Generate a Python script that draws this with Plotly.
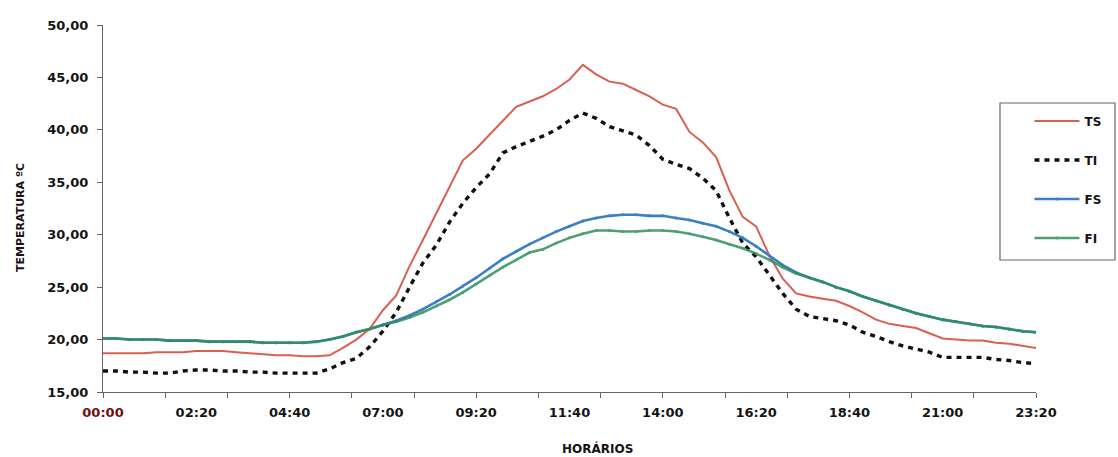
import plotly.graph_objects as go

# time in minutes from 00:00, every 20 minutes
minutes = list(range(0, 1401, 20))

ts = [18.7, 18.7, 18.7, 18.7, 18.8, 18.8, 18.8, 18.9, 18.9, 18.9,
      18.8, 18.7, 18.6, 18.5, 18.5, 18.4, 18.4, 18.5, 19.2, 20.0,
      21.0, 22.8, 24.2, 27.0, 29.5, 32.0, 34.5, 37.1, 38.2, 39.5,
      40.8, 42.2, 42.7, 43.2, 43.9, 44.8, 46.2, 45.3, 44.6, 44.4,
      43.8, 43.2, 42.4, 42.0, 39.8, 38.8, 37.4, 34.2, 31.7, 30.8,
      28.0, 25.8, 24.4, 24.1, 23.9, 23.7, 23.2, 22.6, 21.9, 21.5,
      21.3, 21.1, 20.6, 20.1, 20.0, 19.9, 19.9, 19.7, 19.6, 19.4,
      19.2]

ti = [17.0, 17.0, 16.9, 16.9, 16.8, 16.8, 17.0, 17.1, 17.1, 17.0,
      17.0, 16.9, 16.9, 16.8, 16.8, 16.8, 16.8, 17.2, 17.8, 18.2,
      19.3, 20.8, 22.6, 25.0, 27.3, 29.0, 31.2, 33.0, 34.5, 35.8,
      37.8, 38.4, 38.9, 39.4, 40.0, 40.9, 41.6, 41.1, 40.3, 39.9,
      39.5, 38.5, 37.2, 36.7, 36.3, 35.4, 34.2, 31.6, 29.2, 27.9,
      26.2, 24.4, 22.9, 22.2, 22.0, 21.8, 21.4, 20.7, 20.3, 19.8,
      19.4, 19.1, 18.8, 18.3, 18.3, 18.3, 18.3, 18.1, 18.0, 17.8,
      17.7]

fs = [20.1, 20.1, 20.0, 20.0, 20.0, 19.9, 19.9, 19.9, 19.8, 19.8,
      19.8, 19.8, 19.7, 19.7, 19.7, 19.7, 19.8, 20.0, 20.3, 20.7,
      21.0, 21.4, 21.8, 22.3, 22.9, 23.6, 24.3, 25.1, 25.9, 26.8,
      27.7, 28.4, 29.1, 29.7, 30.3, 30.8, 31.3, 31.6, 31.8, 31.9,
      31.9, 31.8, 31.8, 31.6, 31.4, 31.1, 30.8, 30.3, 29.7, 28.9,
      28.0, 27.1, 26.4, 25.9, 25.5, 25.0, 24.6, 24.1, 23.7, 23.3,
      22.9, 22.5, 22.2, 21.9, 21.7, 21.5, 21.3, 21.2, 21.0, 20.8,
      20.7]

fi = [20.1, 20.1, 20.0, 20.0, 20.0, 19.9, 19.9, 19.9, 19.8, 19.8,
      19.8, 19.8, 19.7, 19.7, 19.7, 19.7, 19.8, 20.0, 20.3, 20.7,
      21.0, 21.4, 21.7, 22.1, 22.6, 23.2, 23.8, 24.5, 25.3, 26.1,
      26.9, 27.6, 28.3, 28.6, 29.2, 29.7, 30.1, 30.4, 30.4, 30.3,
      30.3, 30.4, 30.4, 30.3, 30.1, 29.8, 29.5, 29.1, 28.7, 28.2,
      27.6, 26.9, 26.3, 25.9, 25.5, 25.0, 24.6, 24.1, 23.7, 23.3,
      22.9, 22.5, 22.2, 21.9, 21.7, 21.5, 21.3, 21.2, 21.0, 20.8,
      20.7]

x_tick_vals = [0, 140, 280, 420, 560, 700, 840, 980, 1120, 1260, 1400]
x_tick_text = ['<span style="color:#6e1010">00:00</span>', "02:20", "04:40", "07:00",
               "09:20", "11:40", "14:00", "16:20", "18:40", "21:00", "23:20"]
y_tick_vals = [15, 20, 25, 30, 35, 40, 45, 50]
y_tick_text = ["15,00", "20,00", "25,00", "30,00", "35,00", "40,00", "45,00", "50,00"]

FONT = "DejaVu Sans, Arial, sans-serif"
INK = "#141414"

fig = go.Figure()
fig.add_trace(go.Scatter(x=minutes, y=ts, name="TS", mode="lines",
                         line=dict(color="#d9604f", width=2), legendgroup="a"))
fig.add_trace(go.Scatter(x=minutes, y=ti, name="TI", mode="lines",
                         line=dict(color="#111111", width=3.4, dash="5px,5px"), legendgroup="b"))
fig.add_trace(go.Scatter(x=minutes, y=fs, name="FS", mode="lines+markers",
                         line=dict(color="#3b7fc4", width=2.6),
                         marker=dict(size=3, color="#3b7fc4"), legendgroup="c"))
fig.add_trace(go.Scatter(x=minutes, y=fi, name="FI", mode="lines+markers",
                         line=dict(color="#2f8f5f", width=2.6),
                         marker=dict(size=3, color="#2f8f5f"), opacity=0.85, legendgroup="d"))

fig.update_layout(
    width=1118, height=457,
    margin=dict(l=103, r=82, t=25, b=65),
    paper_bgcolor="white", plot_bgcolor="white",
    font=dict(family=FONT, size=13, color=INK, weight="bold"),
    showlegend=True,
    legend=dict(x=0.993, y=0.778, xanchor="left", yanchor="top",
                bgcolor="rgba(0,0,0,0)", borderwidth=0, itemwidth=45,
                tracegroupgap=20, font=dict(size=12, family=FONT, color=INK, weight="bold")),
    shapes=[dict(type="rect", xref="paper", yref="paper",
                 x0=(1000 - 103) / 933, x1=(1115 - 103) / 933,
                 y0=(392 - 260) / 367, y1=(392 - 103) / 367,
                 line=dict(color="#666666", width=1.2), fillcolor="white", layer="below")],
    annotations=[
        dict(text="HORÁRIOS", xref="paper", yref="paper",
             x=(597 - 103) / 933, y=-(448 - 392) / 367, xanchor="center", yanchor="middle",
             showarrow=False, font=dict(size=12, family=FONT, color=INK, weight="bold")),
        dict(text="TEMPERATURA ºC", xref="paper", yref="paper",
             x=-(103 - 20) / 933, y=(392 - 218) / 367, xanchor="center", yanchor="middle",
             textangle=-90, showarrow=False, font=dict(size=11, family=FONT, color=INK, weight="bold")),
    ],
)

fig.update_xaxes(range=[0, 1400], tickvals=x_tick_vals, ticktext=x_tick_text,
                 showgrid=False, zeroline=False, showline=True, linecolor="#666666", linewidth=1.2,
                 ticks="", tickfont=dict(size=13, family=FONT, color=INK, weight="bold"),
                 ticklabelstandoff=8,
                 minor=dict(tick0=0, dtick=280 / 3, ticks="outside", ticklen=5, tickcolor="#666666"))
fig.update_yaxes(range=[15, 50], tickvals=y_tick_vals, ticktext=y_tick_text,
                 showgrid=False, zeroline=False, showline=True, linecolor="#666666", linewidth=1.2,
                 ticks="outside", ticklen=5, tickcolor="#666666", ticklabelstandoff=6,
                 tickfont=dict(size=13, family=FONT, color=INK, weight="bold"))

fig.write_html("out.html")
